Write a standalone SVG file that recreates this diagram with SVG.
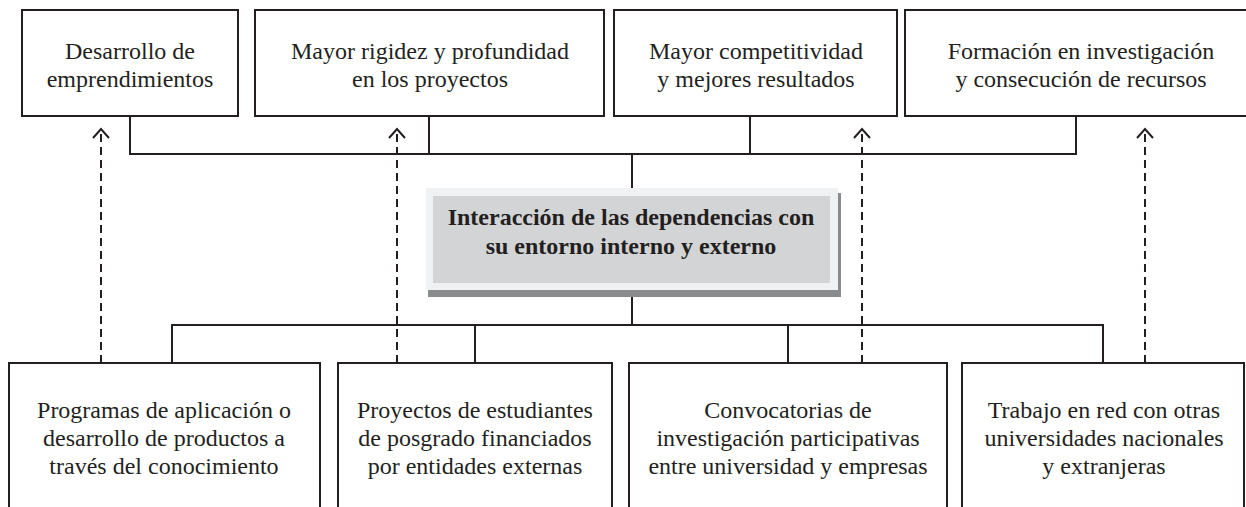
<svg xmlns="http://www.w3.org/2000/svg" width="1246" height="507" viewBox="0 0 1246 507">
<defs>
<style>
.box{fill:#fff;stroke:#231f20;stroke-width:2}
.t{font-family:"Liberation Serif","Times New Roman",serif;font-size:24px;fill:#231f20;text-anchor:middle}
.tb{font-family:"Liberation Serif","Times New Roman",serif;font-size:24px;font-weight:bold;fill:#231f20;text-anchor:middle}
.ln{fill:none;stroke:#231f20;stroke-width:2}
.dash{fill:none;stroke:#231f20;stroke-width:2;stroke-dasharray:8 5}
.head{fill:none;stroke:#231f20;stroke-width:2}
</style>
</defs>
<rect width="1246" height="507" fill="#fff"/>
<g id="connectors">
<polyline class="ln" points="130,116 130,154 1076,154 1076,116"/>
<line class="ln" x1="429" y1="116" x2="429" y2="154"/>
<line class="ln" x1="750" y1="116" x2="750" y2="154"/>
<line class="ln" x1="632" y1="154" x2="632" y2="190"/>
<polyline class="ln" points="172,363 172,325 1103,325 1103,363"/>
<line class="ln" x1="475" y1="325" x2="475" y2="363"/>
<line class="ln" x1="788" y1="325" x2="788" y2="363"/>
<line class="ln" x1="632" y1="288" x2="632" y2="325"/>
<line class="dash" x1="101" y1="363" x2="101" y2="131"/>
<line class="dash" x1="397" y1="363" x2="397" y2="131"/>
<line class="dash" x1="862" y1="363" x2="862" y2="131"/>
<line class="dash" x1="1145" y1="363" x2="1145" y2="131"/>
<polyline class="head" points="93,138 101,129 109,138"/>
<polyline class="head" points="389,138 397,129 405,138"/>
<polyline class="head" points="854,138 862,129 870,138"/>
<polyline class="head" points="1137,138 1145,129 1153,138"/>
</g>
<g id="top1"><rect class="box" x="22" y="10" width="216" height="106"/>
<text class="t" x="130" y="59">Desarrollo de</text><text class="t" x="130" y="87">emprendimientos</text></g>
<g id="top2"><rect class="box" x="255" y="10" width="349" height="106"/>
<text class="t" x="430" y="59">Mayor rigidez y profundidad</text><text class="t" x="430" y="87">en los proyectos</text></g>
<g id="top3"><rect class="box" x="614" y="10" width="283" height="106"/>
<text class="t" x="756" y="59">Mayor competitividad</text><text class="t" x="756" y="87">y mejores resultados</text></g>
<g id="top4"><rect class="box" x="905" y="10" width="352" height="106"/>
<text class="t" x="1081" y="59">Formación en investigación</text><text class="t" x="1081" y="87">y consecución de recursos</text></g>
<g id="center">
<rect x="428" y="193" width="413" height="104" fill="#8a8b8d"/>
<rect x="426" y="188" width="412" height="102" fill="#f0f1f2"/>
<rect x="433" y="196" width="397" height="87" fill="#d3d4d6"/>
<text class="tb" x="631" y="225">Interacción de las dependencias con</text>
<text class="tb" x="631" y="254">su entorno interno y externo</text>
</g>
<g id="bot1"><rect class="box" x="9" y="363" width="311" height="160"/>
<text class="t" x="164" y="418">Programas de aplicación o</text><text class="t" x="164" y="446">desarrollo de productos a</text><text class="t" x="164" y="474">través del conocimiento</text></g>
<g id="bot2"><rect class="box" x="338" y="363" width="274" height="160"/>
<text class="t" x="475" y="418">Proyectos de estudiantes</text><text class="t" x="475" y="446">de posgrado financiados</text><text class="t" x="475" y="474">por entidades externas</text></g>
<g id="bot3"><rect class="box" x="629" y="363" width="318" height="160"/>
<text class="t" x="788" y="418">Convocatorias de</text><text class="t" x="788" y="446">investigación participativas</text><text class="t" x="788" y="474">entre universidad y empresas</text></g>
<g id="bot4"><rect class="box" x="962" y="363" width="282" height="160"/>
<text class="t" x="1104" y="418">Trabajo en red con otras</text><text class="t" x="1104" y="446">universidades nacionales</text><text class="t" x="1104" y="474">y extranjeras</text></g>
</svg>
